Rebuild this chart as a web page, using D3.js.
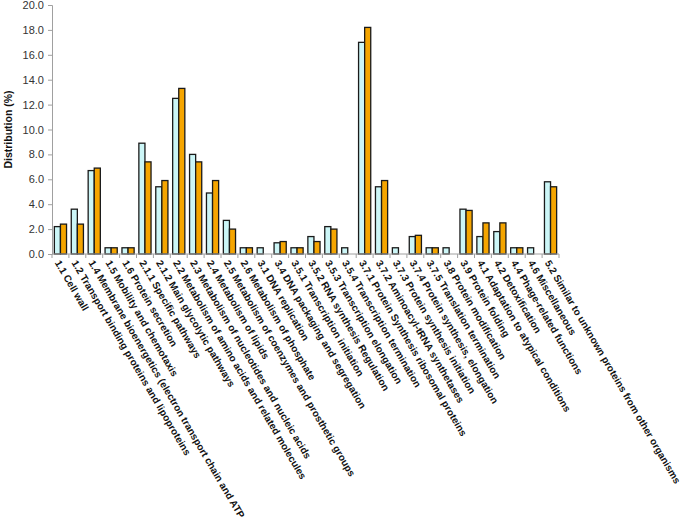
<!DOCTYPE html>
<html>
<head>
<meta charset="utf-8">
<script src="https://cdn.jsdelivr.net/npm/d3@7"></script>
<style>
  html, body { margin: 0; padding: 0; background: #fff; }
  svg { display: block; }
</style>
</head>
<body>
<svg id="chart" width="683" height="521"></svg>
<script>
const categories = [
  "1.1 Cell wall",
  "1.2 Transport binding proteins and lipoproteins",
  "1.4 Membrane bioenergetics (electron transport chain and ATP",
  "1.5 Mobility and chemotaxis",
  "1.6 Protein secretion",
  "2.1.1 Specific pathways",
  "2.1.2 Main glycolytic pathways",
  "2.2 Metabolism of amino acids and related molecules",
  "2.3 Metabolism of nucleotides and nucleic acids",
  "2.4 Metabolism of lipids",
  "2.5 Metabolism of coenzymes and prosthetic groups",
  "2.6 Metabolism of phosphate",
  "3.1 DNA replication",
  "3.4 DNA packaging and segregation",
  "3.5.1 Transcription initiation",
  "3.5.2 RNA synthesis Regulation",
  "3.5.3 Transcription elongation",
  "3.5.4 Transcription termination",
  "3.7.1 Protein Synthesis ribosomal proteins",
  "3.7.2 Aminoacyl-tRNA synthetases",
  "3.7.3 Protein synthesis initiation",
  "3.7.4 Protein synthesis, elongation",
  "3.7.5 Translation termination",
  "3.8 Protein modification",
  "3.9 Protein folding",
  "4.1 Adaptation to atypical conditions",
  "4.2 Detoxification",
  "4.4 Phage-related functions",
  "4.6 Miscellaneous",
  "5.2 Similar to unknown proteins from other organisms"
];
const seriesA = [2.2, 3.6, 6.7, 0.5, 0.5, 8.9, 5.4, 12.5, 8.0, 4.9, 2.7, 0.5, 0.5, 0.9, 0.5, 1.4, 2.2, 0.5, 17.0, 5.4, 0.5, 1.4, 0.5, 0.5, 3.6, 1.4, 1.8, 0.5, 0.5, 5.8];
const seriesB = [2.4, 2.4, 6.9, 0.5, 0.5, 7.4, 5.9, 13.3, 7.4, 5.9, 2.0, 0.5, 0, 1.0, 0.5, 1.0, 2.0, 0, 18.2, 5.9, 0, 1.5, 0.5, 0, 3.5, 2.5, 2.5, 0.5, 0, 5.4];
const seriesNames = ["A", "B"];
const seriesColors = ["#ccf6f7", "#f5a500"];
const yTicks = [0, 2, 4, 6, 8, 10, 12, 14, 16, 18, 20];
const yTitle = "Distribution (%)";

const svg = d3.select("#chart");
const mLeft = 52, mRight = 559, mTop = 5, mBottom = 254;

const x = d3.scaleBand().domain(categories).range([mLeft, mRight]).paddingInner(0.28).paddingOuter(0.14);
const xOuter = d3.scaleBand().domain(categories).range([mLeft, mRight]).padding(0);
const xs = d3.scaleBand().domain(seriesNames).range([0, x.bandwidth()]).padding(0);
const y = d3.scaleLinear().domain([0, 20]).range([mBottom, mTop]);

// Y axis
const yAxis = svg.append("g").attr("transform", `translate(${mLeft},0)`)
  .call(d3.axisLeft(y).tickValues(yTicks).tickFormat(d3.format(".1f")).tickSize(4).tickPadding(4));
yAxis.select(".domain").attr("stroke", "#a0a0a0");
yAxis.selectAll(".tick line").attr("stroke", "#a0a0a0");
yAxis.selectAll(".tick text").attr("font-family", "Liberation Sans, Arial, sans-serif")
  .attr("font-size", 11).attr("fill", "#333");

svg.append("text")
  .attr("transform", `translate(12,${(mTop + mBottom) / 2}) rotate(-90)`)
  .attr("text-anchor", "middle")
  .attr("font-family", "Liberation Sans, Arial, sans-serif")
  .attr("font-weight", "bold").attr("font-size", 10.5).attr("fill", "#111")
  .text(yTitle);

// Bars
const data = categories.map((c, i) => ({ c, vals: [seriesA[i], seriesB[i]] }));
const groups = svg.append("g").selectAll("g").data(data).join("g")
  .attr("transform", d => `translate(${x(d.c)},0)`);
groups.selectAll("rect")
  .data(d => d.vals.map((v, j) => ({ v, s: seriesNames[j], j })).filter(e => e.v > 0))
  .join("rect")
  .attr("x", e => xs(e.s))
  .attr("width", xs.bandwidth())
  .attr("y", e => y(e.v))
  .attr("height", e => y(0) - y(e.v))
  .attr("fill", e => seriesColors[e.j])
  .attr("stroke", "#1a1a1a")
  .attr("stroke-width", 1.3);

// X axis
const xAxisG = svg.append("g");
xAxisG.append("line").attr("x1", mLeft).attr("x2", mRight).attr("y1", mBottom).attr("y2", mBottom)
  .attr("stroke", "#a0a0a0");
xAxisG.selectAll("line.tk").data(categories.concat(["__end"])).join("line").attr("class", "tk")
  .attr("x1", (d, i) => i < categories.length ? xOuter(d) : mRight)
  .attr("x2", (d, i) => i < categories.length ? xOuter(d) : mRight)
  .attr("y1", mBottom).attr("y2", mBottom + 4).attr("stroke", "#a0a0a0");

xAxisG.selectAll("text").data(categories).join("text")
  .attr("transform", d => `translate(${xOuter(d) + xOuter.bandwidth() / 2 - 3},${mBottom + 7}) rotate(59.5)`)
  .attr("text-anchor", "start")
  .attr("dy", "0.35em")
  .attr("font-family", "Liberation Sans, Arial, sans-serif")
  .attr("font-weight", "bold").attr("font-size", 10).attr("fill", "#111")
  .text(d => d);
</script>
</body>
</html>
